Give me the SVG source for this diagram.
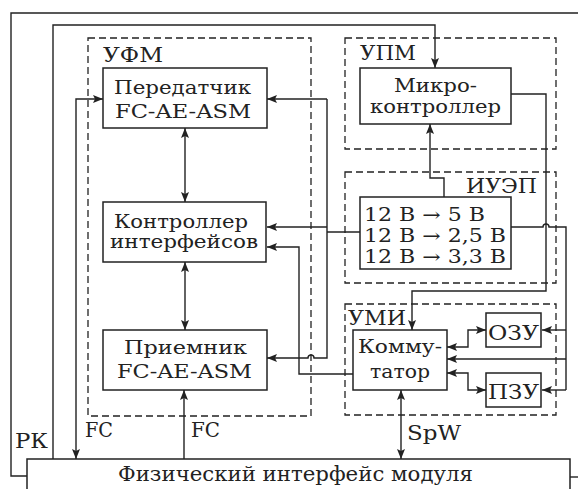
<svg xmlns="http://www.w3.org/2000/svg" width="578" height="489" viewBox="0 0 578 489">
<style>
.bg{fill:#fff}
.box{fill:#fff;stroke:#222;stroke-width:1.5}
.grp{fill:none;stroke:#222;stroke-width:1.3;stroke-dasharray:7 4}
.ln{fill:none;stroke:#222;stroke-width:1.4}
.t{font-family:"DejaVu Serif","Liberation Serif",serif;font-size:18.5px;fill:#222}
.l{font-family:"DejaVu Serif","Liberation Serif",serif;font-size:21px;fill:#222}
.p{font-family:"DejaVu Serif","Liberation Serif",serif;font-size:18px;fill:#222}
</style>
<defs>
<marker id="a" viewBox="0 0 10 8" refX="10" refY="4" markerWidth="10" markerHeight="8" markerUnits="userSpaceOnUse" orient="auto-start-reverse">
<path d="M0,0 L10,4 L0,8 L2,4 z" fill="#222"/>
</marker>
</defs>
<rect class="bg" x="0" y="0" width="578" height="489"/>

<g id="groups">
<g id="ufm"><rect class="grp" x="88" y="38" width="223" height="378"/><text class="l" x="103" y="62" textLength="60" lengthAdjust="spacingAndGlyphs">УФМ</text></g>
<g id="upm"><rect class="grp" x="345" y="38" width="211" height="111"/><text class="l" x="360" y="60" textLength="56" lengthAdjust="spacingAndGlyphs">УПМ</text></g>
<g id="iuep"><rect class="grp" x="345" y="172" width="211" height="111"/><text class="l" x="466" y="193" textLength="71" lengthAdjust="spacingAndGlyphs">ИУЭП</text></g>
<g id="umi"><rect class="grp" x="345" y="304" width="211" height="111"/><text class="l" x="348" y="325" textLength="58" lengthAdjust="spacingAndGlyphs">УМИ</text></g>
</g>

<g id="connectors">
<path class="ln" d="M27,476 H11 V13 H578"/>
<path class="ln" d="M570,477 H578"/>
<path class="ln" d="M76,459 V99 H103" marker-start="url(#a)" marker-end="url(#a)"/>
<path class="ln" d="M53,459 V25 H435 V68" marker-end="url(#a)"/>
<path class="ln" d="M185,128 V202" marker-start="url(#a)" marker-end="url(#a)"/>
<path class="ln" d="M185,262 V330" marker-start="url(#a)" marker-end="url(#a)"/>
<path class="ln" d="M184,459 V390" marker-end="url(#a)"/>
<path class="ln" d="M327,99 H267" marker-end="url(#a)"/>
<path class="ln" d="M327,99 V358 H314 A3,3 0 0 0 308,358 H267" marker-end="url(#a)"/>
<path class="ln" d="M327,227 H267" marker-end="url(#a)"/>
<path class="ln" d="M360,232 H327"/>
<path class="ln" d="M353,374 H299 V247 H267" marker-end="url(#a)"/>
<path class="ln" d="M444,197 V178 H430 V124" marker-end="url(#a)"/>
<path class="ln" d="M511,94 H546 V291 H412 V330" marker-end="url(#a)"/>
<path class="ln" d="M511,227 H543 A3,3 0 0 1 549,227 H566 V390"/>
<path class="ln" d="M566,330 H542" marker-end="url(#a)"/>
<path class="ln" d="M566,359 H447" marker-end="url(#a)"/>
<path class="ln" d="M566,390 H542" marker-end="url(#a)"/>
<path class="ln" d="M447,347 H468 V330 H486" marker-start="url(#a)" marker-end="url(#a)"/>
<path class="ln" d="M447,373 H468 V390 H486" marker-start="url(#a)" marker-end="url(#a)"/>
<path class="ln" d="M401,390 V459" marker-start="url(#a)" marker-end="url(#a)"/>
</g>

<g id="tx">
<rect class="box" x="103" y="68" width="164" height="60"/>
<text class="t" x="114" y="94" textLength="137" lengthAdjust="spacingAndGlyphs">Передатчик</text>
<text class="t" x="115" y="118" textLength="136" lengthAdjust="spacingAndGlyphs">FC-AE-ASM</text>
</g>
<g id="ctrl">
<rect class="box" x="103" y="202" width="163" height="60"/>
<text class="t" x="114" y="228" textLength="134" lengthAdjust="spacingAndGlyphs">Контроллер</text>
<text class="t" x="110" y="248" textLength="148" lengthAdjust="spacingAndGlyphs">интерфейсов</text>
</g>
<g id="rx">
<rect class="box" x="103" y="330" width="164" height="60"/>
<text class="t" x="124" y="354" textLength="123" lengthAdjust="spacingAndGlyphs">Приемник</text>
<text class="t" x="117" y="378" textLength="135" lengthAdjust="spacingAndGlyphs">FC-AE-ASM</text>
</g>
<g id="mcu">
<rect class="box" x="360" y="68" width="151" height="56"/>
<text class="t" x="394" y="92" textLength="83" lengthAdjust="spacingAndGlyphs">Микро-</text>
<text class="t" x="370" y="113" textLength="131" lengthAdjust="spacingAndGlyphs">контроллер</text>
</g>
<g id="psu">
<rect class="box" x="360" y="197" width="151" height="72"/>
<text class="p" x="364" y="221" textLength="121" lengthAdjust="spacingAndGlyphs">12 В → 5 В</text>
<text class="p" x="364" y="242" textLength="142" lengthAdjust="spacingAndGlyphs">12 В → 2,5 В</text>
<text class="p" x="364" y="263" textLength="142" lengthAdjust="spacingAndGlyphs">12 В → 3,3 В</text>
</g>
<g id="switch">
<rect class="box" x="353" y="330" width="94" height="60"/>
<text class="t" x="358" y="353" textLength="84" lengthAdjust="spacingAndGlyphs">Комму-</text>
<text class="t" x="370" y="378" textLength="60" lengthAdjust="spacingAndGlyphs">татор</text>
</g>
<g id="ram">
<rect class="box" x="486" y="313" width="55" height="34"/>
<text class="l" x="488" y="340" textLength="51" lengthAdjust="spacingAndGlyphs">ОЗУ</text>
</g>
<g id="rom">
<rect class="box" x="486" y="373" width="55" height="34"/>
<text class="l" x="488" y="399" textLength="51" lengthAdjust="spacingAndGlyphs">ПЗУ</text>
</g>
<g id="phy">
<rect class="box" x="27" y="459" width="543" height="40"/>
<text class="l" x="118" y="481" textLength="355" lengthAdjust="spacingAndGlyphs">Физический интерфейс модуля</text>
</g>
<g id="labels">
<text class="l" x="15" y="448" textLength="33" lengthAdjust="spacingAndGlyphs">РК</text>
<text class="l" x="85" y="437" textLength="28" lengthAdjust="spacingAndGlyphs">FC</text>
<text class="l" x="191" y="437" textLength="29" lengthAdjust="spacingAndGlyphs">FC</text>
<text class="l" x="407" y="440" textLength="54" lengthAdjust="spacingAndGlyphs">SpW</text>
</g>
</svg>
